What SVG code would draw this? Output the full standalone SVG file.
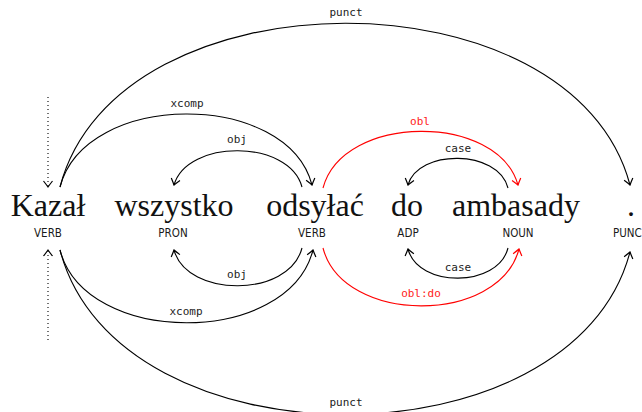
<svg xmlns="http://www.w3.org/2000/svg" width="642" height="412" viewBox="0 0 642 412">
<style>
.word{font-family:"Liberation Serif","DejaVu Serif",serif;font-size:32px;fill:#111;text-anchor:middle}
.tag{font-family:"DejaVu Sans Condensed","DejaVu Sans",sans-serif;font-stretch:condensed;font-size:11.5px;fill:#1a1a1a;text-anchor:middle}
.lbl{font-family:"DejaVu Sans Mono",monospace;font-size:11px;fill:#222;text-anchor:middle}
.lbl.red{fill:#ff2020}
.arc{fill:none;stroke:#000;stroke-width:1.1}
.arc.red{stroke:#ff0000}
.dot{fill:none;stroke:#000;stroke-width:1.1;stroke-dasharray:1 3}
</style>
<defs>
<marker id="ah" viewBox="-7 -6 9 12" refX="0" refY="0" markerWidth="9" markerHeight="12" markerUnits="userSpaceOnUse" orient="auto">
<path d="M-6,-4.5 Q-1.8,-1.2 0,0 Q-1.8,1.2 -6,4.5" fill="none" stroke="#000" stroke-width="1.2"/>
</marker>
<marker id="ahr" viewBox="-7 -6 9 12" refX="0" refY="0" markerWidth="9" markerHeight="12" markerUnits="userSpaceOnUse" orient="auto">
<path d="M-6,-4.5 Q-1.8,-1.2 0,0 Q-1.8,1.2 -6,4.5" fill="none" stroke="#ff0000" stroke-width="1.2"/>
</marker>
</defs>

<g id="connectors">
<path class="dot" d="M48,97 L48,187" marker-end="url(#ah)"/>
<path class="dot" d="M48,340 L48,250" marker-end="url(#ah)"/>

<path class="arc" d="M60,187 C117,-31 573,-31 630,185" marker-end="url(#ah)"/>
<path class="arc" d="M60,187 C85,90 287,90 312,185" marker-end="url(#ah)"/>
<path class="arc" d="M302,187 C289,139 187,139 174,185" marker-end="url(#ah)"/>
<path class="arc red" d="M323,188 C343,113 498,113 518,185" marker-end="url(#ahr)"/>
<path class="arc" d="M508,188 C498,149 418,149 408,185" marker-end="url(#ah)"/>

<path class="arc" d="M60,250 C117,469 573,469 630,252" marker-end="url(#ah)"/>
<path class="arc" d="M60,250 C85,347 288,347 313,250" marker-end="url(#ah)"/>
<path class="arc" d="M302,248 C289,298 187,298 174,250" marker-end="url(#ah)"/>
<path class="arc red" d="M323,248 C343,325 499,325 519,249" marker-end="url(#ahr)"/>
<path class="arc" d="M508,248 C498,288 418,288 408,249" marker-end="url(#ah)"/>
</g>

<g id="arc-labels">
<text class="lbl" x="346" y="16">punct</text>
<text class="lbl" x="187" y="107">xcomp</text>
<text class="lbl" x="237" y="143">obj</text>
<text class="lbl red" x="420" y="125">obl</text>
<text class="lbl" x="458" y="152">case</text>
<text class="lbl" x="237" y="278">obj</text>
<text class="lbl" x="186" y="315">xcomp</text>
<text class="lbl red" x="421" y="297">obl:do</text>
<text class="lbl" x="458" y="271">case</text>
<rect x="315" y="396" width="62" height="16" fill="#fff"/>
<text class="lbl" x="346" y="406">punct</text>
</g>

<g id="n1"><text class="word" x="48" y="216">Kazał</text><text class="tag" x="48" y="237">VERB</text></g>
<g id="n2"><text class="word" x="174" y="216">wszystko</text><text class="tag" x="173" y="237">PRON</text></g>
<g id="n3"><text class="word" x="315" y="216">odsyłać</text><text class="tag" x="312" y="237">VERB</text></g>
<g id="n4"><text class="word" x="407" y="216">do</text><text class="tag" x="408" y="237">ADP</text></g>
<g id="n5"><text class="word" x="516" y="216">ambasady</text><text class="tag" x="518" y="237">NOUN</text></g>
<g id="n6"><text class="word" x="631" y="216">.</text><text class="tag" x="613" y="237" style="text-anchor:start">PUNC</text></g>
</svg>
